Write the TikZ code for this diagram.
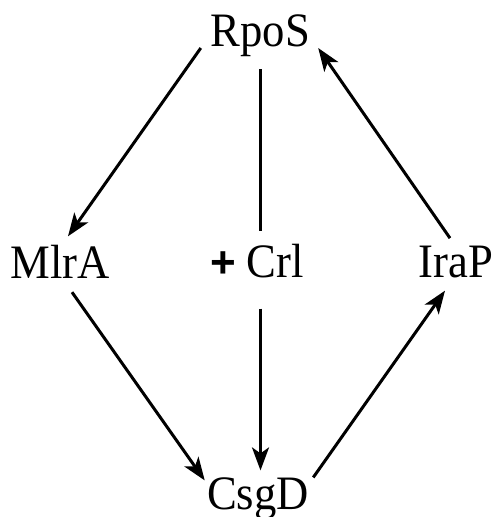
\documentclass[tikz,border=0pt]{standalone}
\usepackage{fontspec}
\setmainfont[FakeStretch=0.93]{Liberation Serif}
\setsansfont{Liberation Sans}
\usetikzlibrary{arrows.meta}
\tikzset{
  gene/.style={anchor=base, inner sep=0pt, font=\fontsize{48}{50}\selectfont},
  act/.style={line width=3pt, -{Stealth[length=23pt, width=17pt, inset=6pt]}},
  link/.style={line width=3pt}
}
\begin{document}
\begin{tikzpicture}[x=1pt,y=1pt]
  \useasboundingbox (0,0) rectangle (494,517);
  \node [gene] (rpos) at (260.5,470) {RpoS};
  \node [gene] (mlra) at (60,238) {MlrA};
  \node [gene] (crl) at (257,239) {{\fontsize{44}{46}\sffamily\bfseries +} Crl};
  \node [gene] (irap) at (456,239) {IraP};
  \node [gene] (csgd) at (258,7) {CsgD};

  \draw [act] ([shift={(-9.9pt,9.4pt)}]rpos.south west) -- ([shift={(8pt,9.2pt)}]mlra.north);
  \draw [act] ([shift={(12pt,-13pt)}]mlra.south) -- ([shift={(-2.2pt,-2.4pt)}]csgd.north west);
  \draw [link, shorten <=11.6pt, shorten >=13pt] (rpos.south) -- (rpos.south |- crl.north);
  \draw [act, shorten <=30pt, shorten >=7.6pt] (rpos.south |- crl.south) -- (rpos.south |- csgd.north);
  \draw [act] ([shift={(4.2pt,0.6pt)}]csgd.north east) -- ([shift={(-11pt,-12pt)}]irap.south);
  \draw [act] ([shift={(-6pt,8.2pt)}]irap.north) -- ([shift={(7.9pt,9.4pt)}]rpos.south east);
\end{tikzpicture}
\end{document}
